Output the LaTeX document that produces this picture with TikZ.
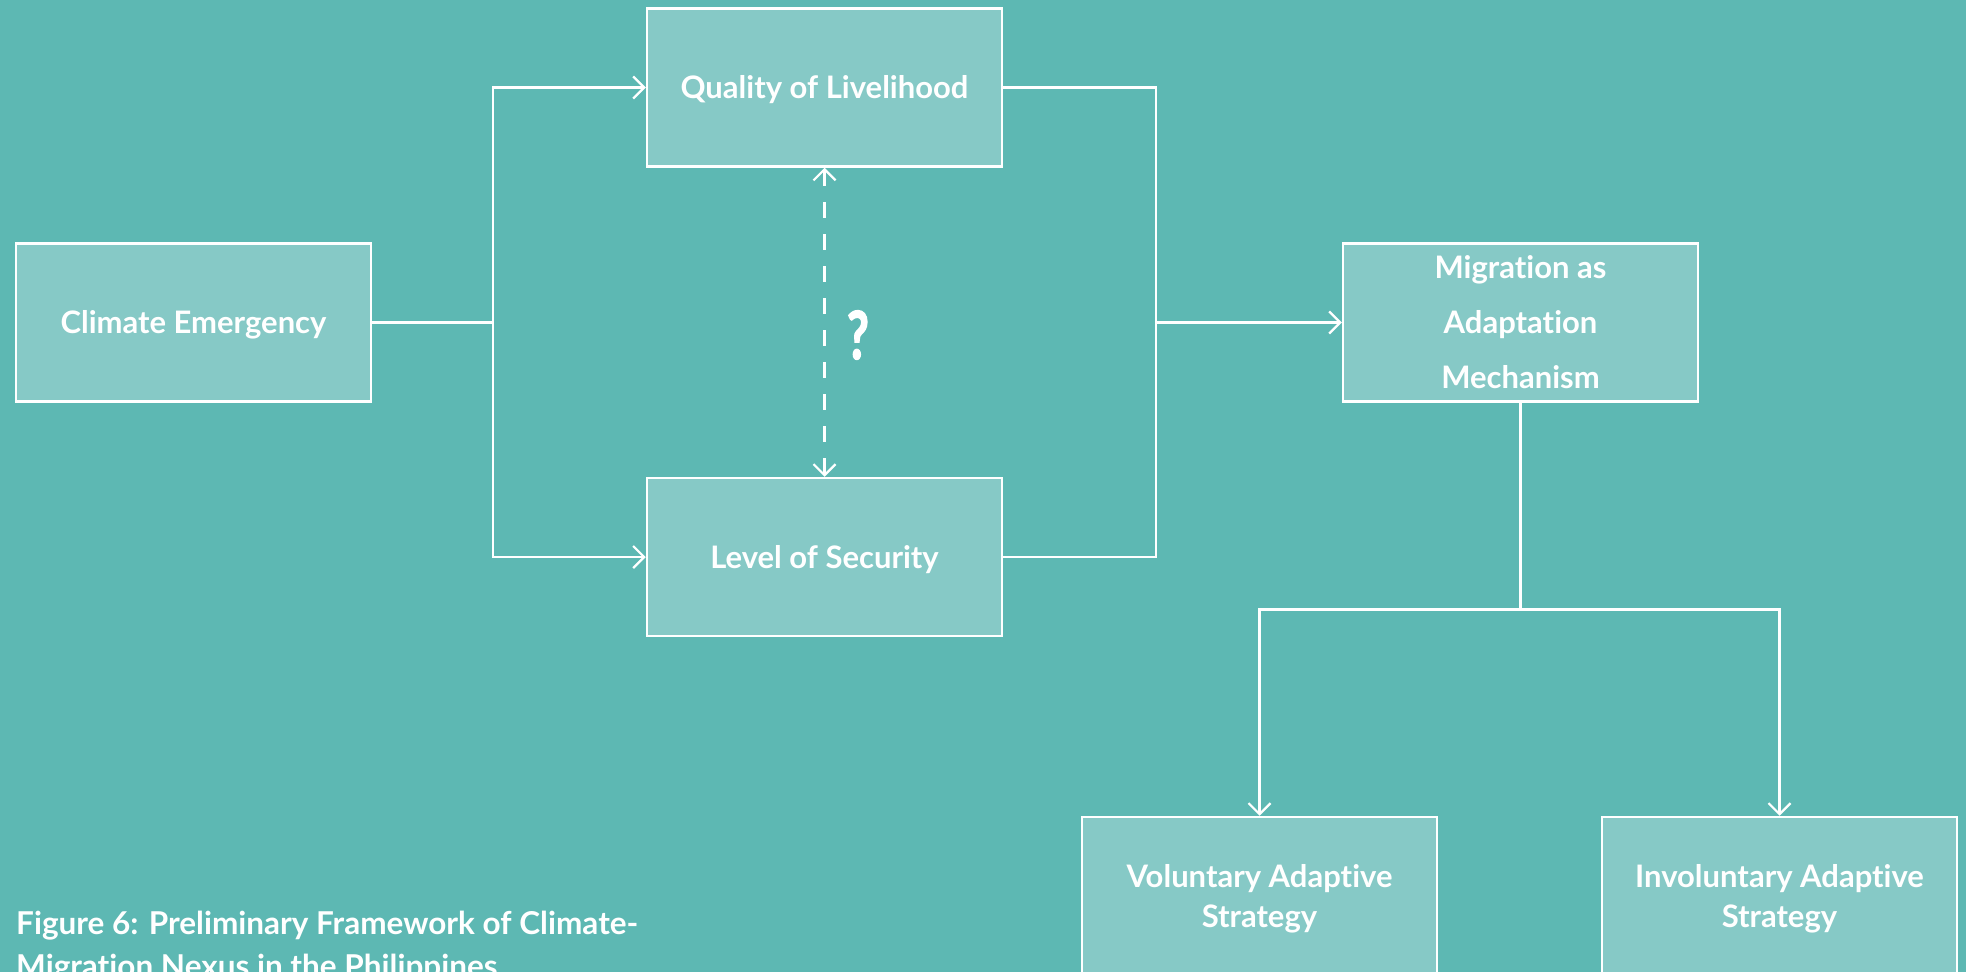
\documentclass[tikz,border=0pt]{standalone}
\usepackage{fontspec}
\setmainfont{Lato}[Ligatures={NoCommon}]
\usetikzlibrary{arrows.meta}
\definecolor{bgteal}{HTML}{5DB8B3}
\definecolor{boxteal}{HTML}{86C9C6}
\begin{document}
\begin{tikzpicture}[x=1pt,y=-1pt,
  box/.style={draw=white, line width=2.5pt, fill=boxteal, minimum width=355pt, minimum height=158pt,
    inner sep=0pt, text=white, align=center, font=\fontsize{31}{55}\selectfont\bfseries},
  one/.style={text height=22pt, text depth=0pt},
  low/.style={minimum height=164pt, font=\fontsize{31}{40}\selectfont\bfseries},
  conn/.style={draw=white, line width=2.2pt},
  arr/.style={-{Straight Barb[length=11pt,width=22pt]}},
  dbl/.style={{Straight Barb[length=11pt,width=22pt]}-{Straight Barb[length=11pt,width=22pt]}},
  lbl/.style={text=white, inner sep=0pt}]
\fill[bgteal] (0,0) rectangle (1966,972);
\useasboundingbox (0,0) rectangle (1966,972);
\clip (0,0) rectangle (1966,972);

\node[box, one] (ce) at (193.5,322.5) {Climate Emergency};
\node[box, one] (ql) at (824.5,87.5) {Quality of Livelihood};
\node[box, one] (ls) at (824.5,557) {Level of Security};
\node[box] (mig) at (1520.5,322.5) {Migration as\\Adaptation\\Mechanism};
\node[box, low] (vol) at (1259.5,899) {Voluntary Adaptive\\Strategy};
\node[box, low] (inv) at (1779.5,899) {Involuntary Adaptive\\Strategy};

\coordinate (jl) at (493,322.5);
\coordinate (jr) at (1156,322.5);
\coordinate (jb) at (1520.5,609.5);

\draw[conn] (ce.east) -- (jl);
\draw[conn, arr] (jl) |- (ql.west);
\draw[conn, arr] (jl) |- (ls.west);
\draw[conn] (ql.east) -| (jr);
\draw[conn] (ls.east) -| (jr);
\draw[conn, arr] (jr) -- (mig.west);
\draw[conn] (mig.south) -- (jb);
\draw[conn, arr] (jb) -| (vol.north);
\draw[conn, arr] (jb) -| (inv.north);
\draw[conn, dbl, dash pattern=on 16pt off 16pt] (ql.south) -- (ls.north);

\node[lbl, font=\fontsize{66}{66}\selectfont\bfseries\addfontfeature{FakeBold=2.5}] (q) at (858,335) {\scalebox{0.72}[1]{?}};

\node[lbl, anchor=base west, align=left, font=\fontsize{31.5}{43}\selectfont\bfseries] (cap) at (16,977)
  {Figure 6: Preliminary Framework of Climate-\\Migration Nexus in the Philippines};
\end{tikzpicture}
\end{document}
